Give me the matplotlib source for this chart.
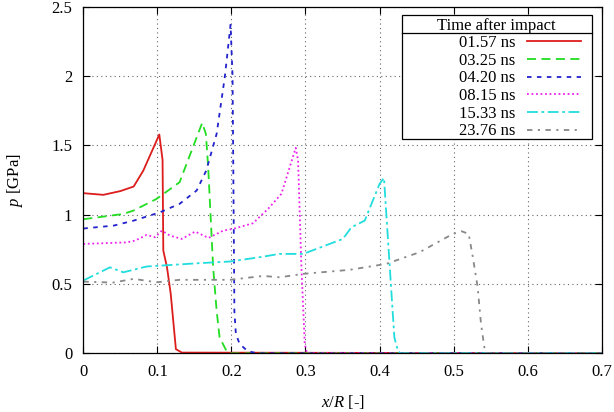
import matplotlib
matplotlib.use("Agg")
import matplotlib.pyplot as plt
from matplotlib.patches import Rectangle
from matplotlib.lines import Line2D

plt.rcParams['font.family'] = ['Liberation Serif', 'DejaVu Serif']
plt.rcParams['mathtext.fontset'] = 'custom'
plt.rcParams['mathtext.rm'] = 'Liberation Serif'
plt.rcParams['mathtext.it'] = 'Liberation Serif:italic'
plt.rcParams['font.size'] = 12

# ---- data ----
labels = ["01.57 ns", "03.25 ns", "04.20 ns", "08.15 ns", "15.33 ns", "23.76 ns"]

x_157 = [0.0, 0.027, 0.050, 0.068, 0.081, 0.1026, 0.107, 0.108, 0.113, 0.118, 0.125, 0.133, 0.70]
p_157 = [1.155, 1.143, 1.170, 1.203, 1.318, 1.578, 1.395, 0.741, 0.620, 0.430, 0.030, 0.005, 0.0]

x_325 = [0.0, 0.054, 0.068, 0.099, 0.130, 0.1605, 0.1655, 0.1686, 0.1753, 0.180, 0.184, 0.193, 0.197, 0.70]
p_325 = [0.967, 1.005, 1.030, 1.114, 1.234, 1.662, 1.583, 1.342, 0.620, 0.308, 0.115, 0.020, 0.0, 0.0]

x_420 = [0.0, 0.041, 0.068, 0.1035, 0.130, 0.153, 0.166, 0.180, 0.191, 0.1988, 0.2015, 0.203, 0.204, 0.206, 0.211, 0.222, 0.235, 0.70]
p_420 = [0.900, 0.921, 0.957, 1.017, 1.078, 1.174, 1.318, 1.583, 1.991, 2.370, 2.000, 1.000, 0.300, 0.140, 0.068, 0.015, 0.0, 0.0]

x_815 = [0.0, 0.0586, 0.070, 0.0855, 0.0968, 0.106, 0.117, 0.133, 0.151, 0.169, 0.189, 0.202, 0.229, 0.2495, 0.2675, 0.2868, 0.290, 0.2945, 0.299, 0.302, 0.70]
p_815 = [0.789, 0.800, 0.813, 0.854, 0.837, 0.885, 0.849, 0.825, 0.878, 0.832, 0.885, 0.897, 0.938, 1.042, 1.150, 1.482, 1.390, 0.620, 0.068, 0.0, 0.0]

x_1533 = [0.0, 0.036, 0.054, 0.0855, 0.153, 0.198, 0.238, 0.265, 0.297, 0.3505, 0.362, 0.380, 0.400, 0.406, 0.4135, 0.420, 0.4247, 0.428, 0.70]
p_1533 = [0.525, 0.620, 0.584, 0.626, 0.649, 0.662, 0.693, 0.717, 0.717, 0.825, 0.909, 0.957, 1.222, 1.265, 0.645, 0.115, 0.020, 0.0, 0.0]

x_2376 = [0.0, 0.040, 0.068, 0.099, 0.130, 0.198, 0.243, 0.265, 0.297, 0.3596, 0.409, 0.454, 0.499, 0.511, 0.5204, 0.526, 0.5325, 0.537, 0.5415, 0.545, 0.70]
p_2376 = [0.517, 0.510, 0.537, 0.512, 0.530, 0.530, 0.558, 0.548, 0.573, 0.602, 0.645, 0.729, 0.861, 0.880, 0.861, 0.693, 0.476, 0.212, 0.043, 0.0, 0.0]

xs = [x_157, x_325, x_420, x_815, x_1533, x_2376]
ps = [p_157, p_325, p_420, p_815, p_1533, p_2376]

xticks = [0, 0.1, 0.2, 0.3, 0.4, 0.5, 0.6, 0.7]
xticklabels = ["0", "0.1", "0.2", "0.3", "0.4", "0.5", "0.6", "0.7"]
yticks = [0, 0.5, 1, 1.5, 2, 2.5]
yticklabels = ["0", "0.5", "1", "1.5", "2", "2.5"]

# ---- styles ----
colors = ["#dd1c1c", "#22dd22", "#2222cc", "#ee22ee", "#22dddd", "#888888"]
styles = ["-", (0, (5, 3)), (0, (2.5, 3)), (0, (1, 1.5)), (0, (6, 2, 1.5, 2)), (0, (3, 3, 1.2, 3))]

fig = plt.figure(figsize=(6.14, 4.12), dpi=100)
ax = fig.add_axes([0.1357, 0.1425, 0.8443, 0.8412])

handles = []
for x, p, c, s, lab in zip(xs, ps, colors, styles, labels):
    h, = ax.plot(x, p, color=c, linestyle=s, lw=1.3, label=lab)
    handles.append(h)

ax.set_xlim(0, 0.7)
ax.set_ylim(0, 2.5)
ax.set_xticks(xticks)
ax.set_xticklabels(xticklabels)
ax.set_yticks(yticks)
ax.set_yticklabels(yticklabels)
ax.tick_params(direction='in', length=5, width=0.8, top=True, right=True, pad=8, labelsize=12)
ax.grid(True, color='0.4', linestyle=(0, (1, 3)), linewidth=0.8)
for sp in ax.spines.values():
    sp.set_linewidth(0.9)

ax.set_xlabel(r'$x/R$ [-]', fontsize=12, labelpad=9)
ax.set_ylabel(r'$p$ [GPa]', fontsize=12, labelpad=19)

# legend box
x0, x1 = 0.6142, 0.9807
yb, yt = 0.6174, 0.9761
ysep = 0.9233
ax.add_patch(Rectangle((x0, yb), x1 - x0, yt - yb, transform=ax.transAxes,
                       facecolor='white', edgecolor='black', lw=0.9, zorder=5))
ax.add_line(Line2D([x0, x1], [ysep, ysep], transform=ax.transAxes, color='black', lw=0.9, zorder=6))
ax.text((x0 + x1) / 2, (yt + ysep) / 2 - 0.006, "Time after impact", transform=ax.transAxes,
        ha='center', va='center', fontsize=12, zorder=7)

leg = ax.legend(handles=handles, loc='upper right', bbox_to_anchor=(0.9595, 0.918),
                frameon=False, markerfirst=False, borderpad=0, borderaxespad=0,
                handlelength=3.2, handletextpad=0.7, labelspacing=0.1, fontsize=12)
leg.set_zorder(8)

fig.savefig("out.png", dpi=100)
